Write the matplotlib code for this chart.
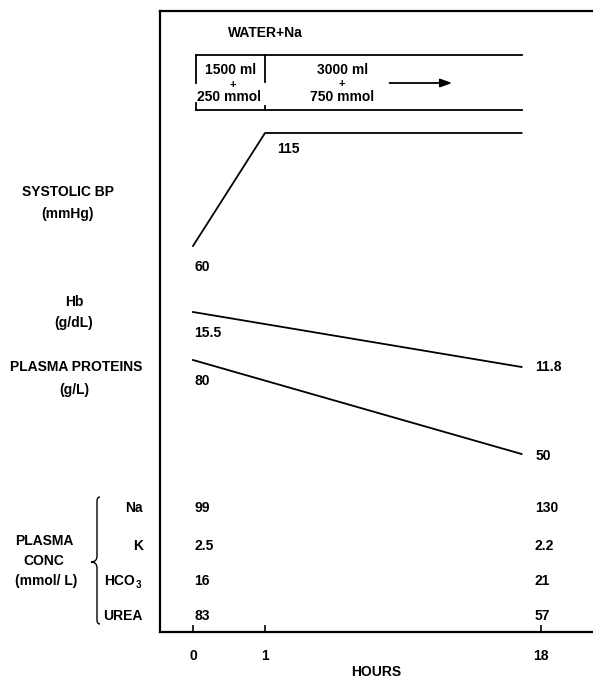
import numpy as np
import matplotlib
matplotlib.use('Agg')
import matplotlib.pyplot as plt
from matplotlib.path import Path
from matplotlib.patches import PathPatch

plt.rcParams['font.family'] = ['Liberation Sans', 'DejaVu Sans']
plt.rcParams['font.weight'] = 'bold'
plt.rcParams['axes.labelweight'] = 'bold'
plt.rcParams['font.size'] = 10

# data
hour_ticks = [0, 1, 18]
bp_hours = [0, 1, 16.8]
bp = [60, 115, 115]
line_hours = [0, 16.8]
hb = [15.5, 11.8]
protein = [80, 50]
conc_names = ['Na', 'K', 'HCO', 'UREA']
conc_start = ['99', '2.5', '16', '83']
conc_end = ['130', '2.2', '21', '57']

W, H = 593, 683
fig = plt.figure(figsize=(W / 100, H / 100), dpi=100)
ax = fig.add_axes([160 / W, 1 - 632 / H, 1 - 160 / W, (632 - 11) / H])

# broken time axis: first hour stretched
xb = [-1, 0, 1, 18, 30]
xd = [-1, 0, 1, 4.833, 4.833 + 12 * 0.2255]
ax.set_xscale('function', functions=(lambda h: np.interp(h, xb, xd),
                                      lambda u: np.interp(u, xd, xb)))
ax.set_xlim(-0.458, 21.2)
ax.set_ylim(632, 11)   # rows, top down


def rows(vals, vlim, rlim):
    v = np.asarray(vals, dtype=float)
    return rlim[0] + (v - vlim[0]) * (rlim[1] - rlim[0]) / (vlim[1] - vlim[0])


lw = 1.3
bp_r = rows(bp, (60, 115), (246, 133))
hb_r = rows(hb, (15.5, 11.8), (312, 367))
pr_r = rows(protein, (80, 50), (360, 454))
ax.plot(bp_hours, bp_r, color='black', lw=lw)
ax.plot(line_hours, hb_r, color='black', lw=lw)
ax.plot(line_hours, pr_r, color='black', lw=lw)


def lab(s, h, r, dx=0, **kw):
    ax.annotate(s, (h, r), xytext=(dx, 0), textcoords='offset points',
                ha='left', va='center', **kw)


lab('60', 0, 267, 1)
lab('115', 1, 149, 8.5)
lab('15.5', 0, 333, 1)
lab('11.8', 18, 367, -4.5)
lab('80', 0, 381, 1)
lab('50', 18, 456, -4)

conc_rows = [508, 546, 581, 616]
for s, e, r in zip(conc_start, conc_end, conc_rows):
    lab(s, 0, r, 1)
    lab(e, 18, r, -4.5)

# infusion box
ax.plot([0.04, 16.8], [55, 55], color='black', lw=lw)
ax.plot([0.04, 16.8], [110, 110], color='black', lw=lw)
ax.plot([0.04, 0.04], [55, 83], color='black', lw=lw)
ax.plot([0.04, 0.04], [103, 110], color='black', lw=lw)
ax.plot([1.03, 1.03], [55, 82], color='black', lw=lw)
ax.plot([1.03, 1.03], [106, 110], color='black', lw=lw)
ax.annotate('', xy=(12.7, 83), xytext=(8.5, 83),
            arrowprops=dict(arrowstyle='-|>,head_length=0.7,head_width=0.25',
                            color='black', lw=lw))
ax.text(0.48, 33, 'WATER+Na', ha='left', va='center')
ax.text(0.52, 70, '1500 ml', ha='center', va='center')
ax.text(0.55, 85, '+', ha='center', va='center', fontsize=8)
ax.text(0.5, 97, '250 mmol', ha='center', va='center')
ax.text(5.75, 70, '3000 ml', ha='center', va='center')
ax.text(5.75, 84, '+', ha='center', va='center', fontsize=8)
ax.text(5.75, 97, '750 mmol', ha='center', va='center')

# axes look
ax.spines['right'].set_visible(False)
for s in ['left', 'top', 'bottom']:
    ax.spines[s].set_linewidth(1.6)
ax.set_yticks([])
ax.set_xticks(hour_ticks)
ax.set_xticklabels([str(h) for h in hour_ticks])
ax.tick_params(axis='x', direction='in', length=5, width=1.2, pad=12)
ax.set_xlabel('HOURS', labelpad=2)

# left side labels, in pixel coordinates
ov = fig.add_axes([0, 0, 1, 1])
ov.set_xlim(0, W)
ov.set_ylim(H, 0)
ov.axis('off')
for s, x, y in [('SYSTOLIC BP', 68, 192), ('(mmHg)', 68, 214),
                ('Hb', 74, 302), ('(g/dL)', 74, 323),
                ('PLASMA PROTEINS', 76, 367), ('(g/L)', 74, 390),
                ('PLASMA', 44, 541), ('CONC', 44, 561), ('(mmol/ L)', 46, 581)]:
    ov.text(x, y, s, ha='center', va='center')

for s, r in zip(conc_names, conc_rows):
    if s == 'HCO':
        ov.text(135, r, s, ha='right', va='center')
        ov.text(136, r + 4, '3', ha='left', va='center', fontsize=7)
    else:
        ov.text(143, r, s, ha='right', va='center')

# curly brace
brace = Path([(100, 497), (97, 497), (97, 501), (97, 501),
              (97, 556), (97, 556), (97, 562), (91, 562),
              (97, 562), (97, 568), (97, 568),
              (97, 620), (97, 620), (97, 624), (100, 624)],
             [Path.MOVETO, Path.CURVE3, Path.CURVE3, Path.LINETO,
              Path.LINETO, Path.LINETO, Path.CURVE3, Path.CURVE3,
              Path.CURVE3, Path.CURVE3, Path.LINETO,
              Path.LINETO, Path.LINETO, Path.CURVE3, Path.CURVE3])
ov.add_patch(PathPatch(brace, fill=False, lw=1.0, color='black'))

fig.savefig('out.png', dpi=100)
